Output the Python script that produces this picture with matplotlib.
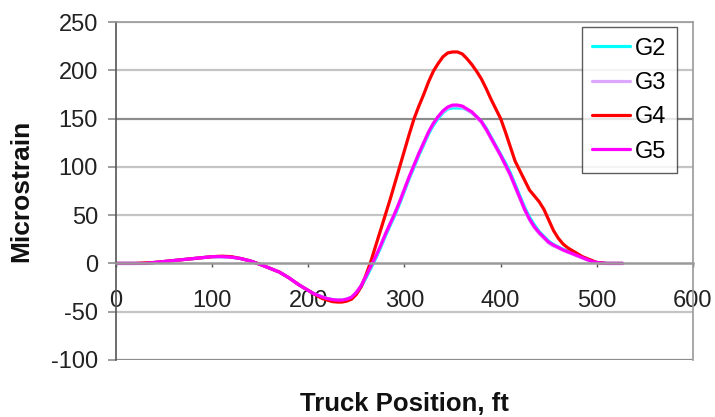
import numpy as np
import matplotlib.pyplot as plt

plt.rcParams['font.family'] = ['Liberation Sans', 'DejaVu Sans']
plt.rcParams['axes.unicode_minus'] = False

# truck position (ft): every 10 ft up to 190, then every 5 ft
pos = list(range(0, 200, 10)) + list(range(200, 515, 5)) + [520, 527]

left_g4 = [0, 0, 0, 0.5, 1, 2, 3, 4, 5, 6, 7, 7.5, 7, 5, 2.5, -1, -5, -9, -15, -22]
left_oth = [0, 0, 0, 0, 1, 2, 3, 4, 5, 6, 7, 7, 6.5, 5, 2.5, -1, -5, -9, -15, -22]

g2 = left_oth + [
    -28, -31, -33, -35, -36.5, -37.5, -38, -38, -37, -35,
    -31, -24, -15, -5, 5, 16, 28, 39, 50, 62,
    75, 88, 100, 112, 123, 134, 143, 150, 156, 160,
    161, 161, 161, 159, 156, 152, 147, 140, 131, 122,
    113, 104, 94, 82, 70, 58, 48, 40, 33, 28,
    23, 19.5, 17, 14.5, 12.5, 10.5, 8.5, 6.5, 4.5, 2.5,
    1, 0.5, 0, 0, 0]
g3 = left_oth + [
    -28, -31, -33, -35, -36.5, -37.5, -38, -38, -37, -35,
    -30, -23, -13, -3, 7, 18, 30, 41, 52, 64,
    77, 90, 102, 114, 125, 136, 145, 152, 157, 161,
    163, 163, 162, 159, 156, 151, 146, 138, 129, 120,
    111, 101, 91, 79, 67, 55, 45, 37, 31, 26,
    21, 18, 16, 13.5, 11.5, 9.5, 7.5, 5.5, 3.5, 2,
    1, 0.5, 0, 0, 0]
g4 = left_g4 + [
    -28, -31, -34, -36.5, -38, -39.5, -40, -40, -39, -37,
    -32, -24, -12, 2, 18, 34, 50, 66, 83, 100,
    117, 134, 150, 163, 175, 188, 199, 207, 214, 218,
    219, 219, 217, 212, 206, 199, 191, 181, 170, 160,
    150, 136, 121, 106, 96, 86, 76, 70, 64, 56,
    45, 34, 26, 20, 16, 13, 10, 7, 5, 3,
    1, 0.5, 0, 0, 0]
g5 = left_oth + [
    -28, -31, -33, -35, -36.5, -37.5, -38, -38, -37, -35,
    -30, -23, -13, -3, 7, 18, 30, 41, 52, 64,
    77, 90, 102, 114, 125, 136, 145, 152, 158, 162,
    164, 164, 163, 160, 157, 152, 147, 139, 130, 121,
    112, 102, 92, 80, 68, 56, 46, 38, 32, 27,
    22, 19, 16.5, 14, 12, 10, 8, 6, 4, 2,
    1, 0.5, 0, 0, 0]

fig = plt.figure(figsize=(7.15, 4.17), dpi=100)
ax = fig.add_axes([0.1622, 0.1367, 0.807, 0.8105])

kw = dict(lw=2.3, solid_joinstyle='round', solid_capstyle='round')
ax.plot(pos, g2, color='#00ffff', label='G2', **kw)
ax.plot(pos, g3, color='#dda6ff', label='G3', **kw)
ax.plot(pos, g4, color='#ff0000', label='G4', **kw)
ax.plot(pos, g5, color='#ff00ff', label='G5', **kw)

ax.set_xlim(0, 600)
ax.set_ylim(-100, 250)
ax.set_xticks(range(0, 601, 100))
ax.set_yticks(range(-100, 251, 50))

for yv in range(-50, 251, 50):
    if yv == 0:
        continue
    c = '#8c8c8c' if yv == 150 else '#c4c4c4'
    ax.axhline(yv, color=c, lw=1.6, zorder=0)

ax.spines['bottom'].set_position(('data', 0))
ax.spines['bottom'].set_color('#9a9a9a')
ax.spines['bottom'].set_linewidth(1.8)
ax.spines['left'].set_color('#555555')
ax.spines['left'].set_linewidth(1.2)
for s in ['top', 'right']:
    ax.spines[s].set_color('#9a9a9a')
    ax.spines[s].set_linewidth(1.2)
# bottom frame of plot area at -100
ax.axhline(-100, color='#8c8c8c', lw=1.6, zorder=0)

ax.tick_params(axis='y', direction='out', length=6, width=1.2, color='#8c8c8c',
               pad=7, labelsize=17, labelcolor='#222222')
ax.tick_params(axis='x', direction='out', length=3, width=1.0, color='#555555',
               pad=16, labelsize=17, labelcolor='#222222')

ax.set_ylabel('Microstrain', fontsize=19, fontweight='bold', color='#111111')
ax.yaxis.set_label_coords(-0.143, 0.5)
ax.set_xlabel('Truck Position, ft', fontsize=18.5, fontweight='bold', color='#111111')
ax.xaxis.set_label_coords(0.5, -0.095)

leg = ax.legend(loc='upper right', bbox_to_anchor=(0.972, 0.985), fontsize=17,
                frameon=True, fancybox=False, edgecolor='#333333',
                handlelength=1.6, handletextpad=0.2, labelspacing=0.52,
                borderpad=0.45, borderaxespad=0)
leg.get_frame().set_linewidth(1.0)

fig.savefig('out.png', dpi=100)
